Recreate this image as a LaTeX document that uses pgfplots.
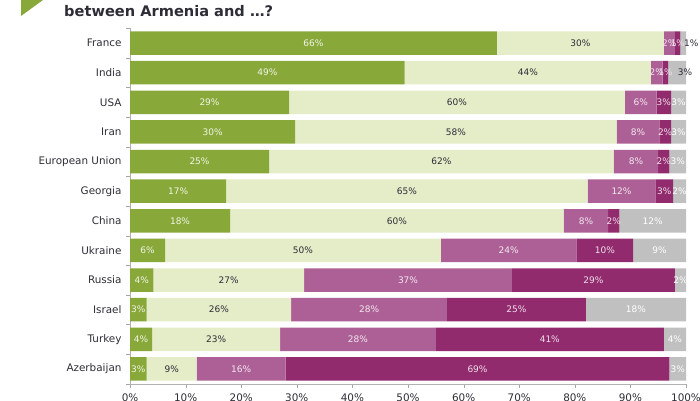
\documentclass[border=0pt]{standalone}
\usepackage{pgfplots}
\usepackage{pgfplotstable}
\pgfplotsset{compat=1.18}
\usepackage{fontspec}
\setmainfont{DejaVu Sans}
\definecolor{cgreen}{RGB}{136,168,58}
\definecolor{clight}{RGB}{228,237,200}
\definecolor{cpink}{RGB}{173,96,150}
\definecolor{cpurple}{RGB}{146,42,110}
\definecolor{cgray}{RGB}{192,192,192}
\definecolor{ctext}{RGB}{45,45,55}
\pgfplotsset{/pgf/number format/assume math mode=true}
\pgfplotstableread{
idx a b c d e la lb lc ld le
11 66 30 2 1 1 66 30 2 1 1
10 49.4 44.3 2.1 1.0 3.2 49 44 2 1 3
9 28.6 60.4 5.7 2.6 2.7 29 60 6 3 3
8 29.7 57.8 7.7 2.1 2.7 30 58 8 2 3
7 25 62 8 2 3 25 62 8 2 3
6 17.3 65.0 12.2 3.2 2.3 17 65 12 3 2
5 18 60 8 2 12 18 60 8 2 12
4 6.3 49.6 24.4 10.2 9.5 6 50 24 10 9
3 4.2 27.1 37.4 29.3 2.0 4 27 37 29 2
2 3 26 28 25 18 3 26 28 25 18
1 4 23 28 41 4 4 23 28 41 4
0 3 9 16 69 3 3 9 16 69 3
}\data
\pgfplotsset{
  base/.style={
    scale only axis, width=556pt, height=355.6pt,
    at={(130pt,16.2pt)}, anchor=south west,
    xmin=0, xmax=100, ymin=-0.5, ymax=11.5,
  },
  lab/.style={draw=none, mark=none, nodes near coords, point meta=explicit,
    nodes near coords={\pgfmathprintnumber{\pgfplotspointmeta}\%},
    every node near coord/.append style={anchor=center, font=\fontsize{9}{10}\selectfont, text=#1}},
}
\begin{document}
\begin{tikzpicture}
\path[use as bounding box] (0,0) rectangle (700pt,400pt);
\fill[cgreen] (21pt,400pt) -- (43pt,400pt) -- (21pt,384pt) -- cycle;
\node[anchor=base west, font=\bfseries\fontsize{14.6}{16}\selectfont, text=ctext, inner sep=0pt] at (64pt,383.5pt) {between Armenia and …?};
\begin{axis}[base,
  xbar stacked, bar width=23.5pt,
  axis x line*=bottom, axis y line*=left,
  axis line style={draw=black!30},
  tick style={draw=black!35},
  tick align=outside,
  xtick={0,10,...,100},
  xticklabel={\pgfmathprintnumber{\tick}\%},
  major tick length=4pt,
  ytick={-0.5,0.5,...,11.5},
  yticklabels={},
  extra y ticks={0,...,11},
  extra y tick labels={Azerbaijan,Turkey,Israel,Russia,Ukraine,China,Georgia,European Union,Iran,USA,India,France},
  extra y tick style={tick style={draw=none}},
  yticklabel style={font=\fontsize{10.4}{12}\selectfont, text=ctext, xshift=-1pt},
  xticklabel style={font=\fontsize{10.4}{12}\selectfont, text=ctext, yshift=-2pt},
]
\addplot[fill=cgreen, draw=none] table[x=a, y=idx]{\data};
\addplot[fill=clight, draw=none] table[x=b, y=idx]{\data};
\addplot[fill=cpink, draw=none] table[x=c, y=idx]{\data};
\addplot[fill=cpurple, draw=none] table[x=d, y=idx]{\data};
\addplot[fill=cgray, draw=none] table[x=e, y=idx]{\data};
\end{axis}
\begin{axis}[base, hide axis, clip=false]
\addplot[lab={white!88!cgreen}] table[x expr={\thisrow{a}/2}, y=idx, meta=la]{\data};
\addplot[lab={ctext}] table[x expr={\thisrow{a}+\thisrow{b}/2}, y=idx, meta=lb]{\data};
\addplot[lab={white!85!cpink}] table[x expr={\thisrow{a}+\thisrow{b}+\thisrow{c}/2}, y=idx, meta=lc]{\data};
\addplot[lab={white!85!cpurple}] table[x expr={\thisrow{a}+\thisrow{b}+\thisrow{c}+\thisrow{d}/2}, y=idx, meta=ld]{\data};
\addplot[lab={white}, skip coords between index={0}{2}] table[x expr={\thisrow{a}+\thisrow{b}+\thisrow{c}+\thisrow{d}+\thisrow{e}/2}, y=idx, meta=le]{\data};
\addplot[lab={ctext}, skip coords between index={2}{12}, every node near coord/.append style={xshift=8pt}] table[x expr={\thisrow{a}+\thisrow{b}+\thisrow{c}+\thisrow{d}+\thisrow{e}/2}, y=idx, meta=le]{\data};
\end{axis}
\end{tikzpicture}
\end{document}
